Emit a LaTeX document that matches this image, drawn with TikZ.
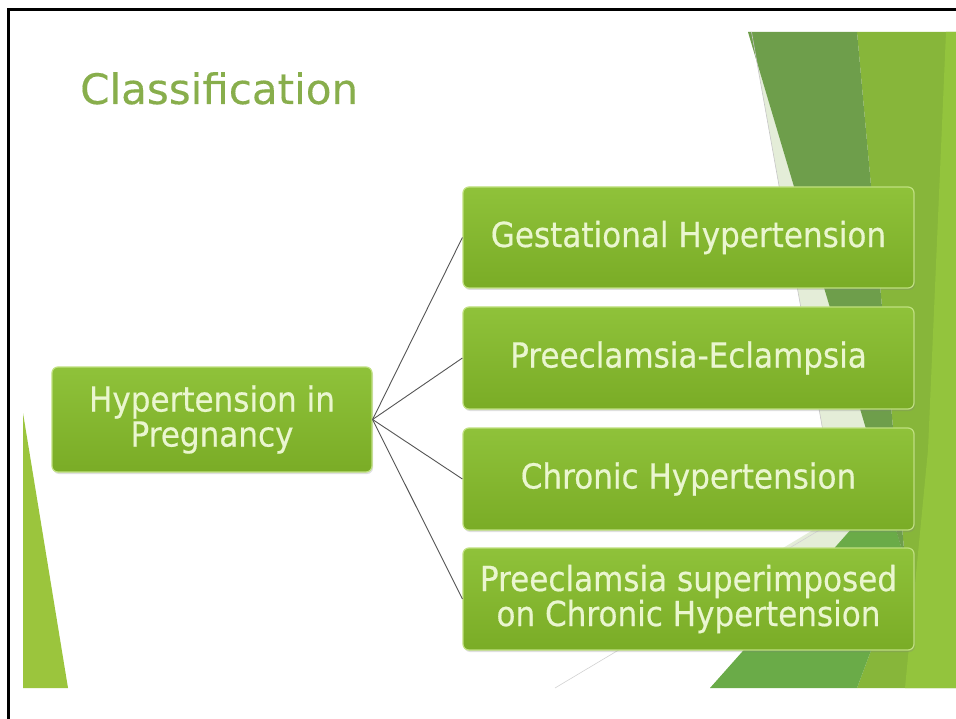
\documentclass[tikz,border=0pt]{standalone}
\usepackage{fontspec}
\setmainfont{DejaVu Sans}
\newfontfamily\boxfont[FakeStretch=0.9,FakeBold=0.5]{DejaVu Sans}
\newfontfamily\titlefont[FakeBold=0.3]{DejaVu Sans}
\usetikzlibrary{shadows}
\definecolor{titleg}{HTML}{88AE4C}
\definecolor{lightg}{HTML}{87B63A}
\definecolor{brightg}{HTML}{93C43D}
\definecolor{medg}{HTML}{6AAB48}
\definecolor{darkg}{HTML}{6E9E4B}
\definecolor{paleg}{HTML}{E4EDD8}
\definecolor{lefttri}{HTML}{9BC53D}
\definecolor{boxtop}{HTML}{8FC23A}
\definecolor{boxbot}{HTML}{7AAC26}
\definecolor{boxline}{HTML}{BFE07F}
\definecolor{boxtext}{HTML}{EAF6CF}
\definecolor{conn}{HTML}{555555}
\tikzset{
  greenbox/.style={rectangle, rounded corners=6pt, top color=boxtop, bottom color=boxbot,
    draw=boxline, line width=1.2pt, text=boxtext, align=center,
    font=\boxfont\fontsize{34.5}{35}\selectfont, inner sep=0pt,
    drop shadow={opacity=0.25, shadow xshift=1pt, shadow yshift=-2pt}},
  connector/.style={draw=conn, line width=0.9pt}
}
\begin{document}
\begin{tikzpicture}[x=1pt,y=-1pt]
\useasboundingbox (0,0) rectangle (956,719);
\fill[white] (0,0) rectangle (956,719);
% background facets
\fill[lightg] (857,32) -- (956,32) -- (956,688) -- (857,688) -- (905,560) -- cycle;
\fill[brightg] (946,32) -- (956,32) -- (956,688) -- (905,688) -- (928,450) -- cycle;
\fill[paleg] (748,32) -- (885,491) -- (834,548) -- (783,548) -- (838,515) -- (751.5,32) -- cycle;
\fill[medg] (710,688) -- (885,491) -- (905,560) -- (857,688) -- cycle;
\fill[darkg] (748,32) -- (857,32) -- (905,560) -- cycle;
\draw[gray!45, line width=0.6pt] (751.5,32) -- (838,515);
\draw[gray!35, line width=0.6pt] (555,688) -- (838,519);
\fill[lefttri] (23,413) -- (68,688) -- (23,688) -- cycle;
% frame
\draw[line width=3pt] (8,719) -- (8,10) -- (956,10);
% title
\node[anchor=base west, text=titleg, inner sep=0pt, font=\titlefont\fontsize{42}{42}\selectfont] (title) at (80,104) {Classification};
% boxes
\node[greenbox, minimum width=320pt, minimum height=105pt] (root) at (212,419.5) {Hypertension in\\Pregnancy};
\node[greenbox, minimum width=451pt, minimum height=101pt] (g) at (688.5,237.5) {Gestational Hypertension};
\node[greenbox, minimum width=451pt, minimum height=102pt] (p) at (688.5,358) {Preeclamsia-Eclampsia};
\node[greenbox, minimum width=451pt, minimum height=102pt] (c) at (688.5,479) {Chronic Hypertension};
\node[greenbox, minimum width=451pt, minimum height=102pt] (s) at (688.5,599) {Preeclamsia superimposed\\on Chronic Hypertension};
% connectors
\draw[connector] (root.east) -- (g.west);
\draw[connector] (root.east) -- (p.west);
\draw[connector] (root.east) -- (c.west);
\draw[connector] (root.east) -- (s.west);
\end{tikzpicture}
\end{document}
